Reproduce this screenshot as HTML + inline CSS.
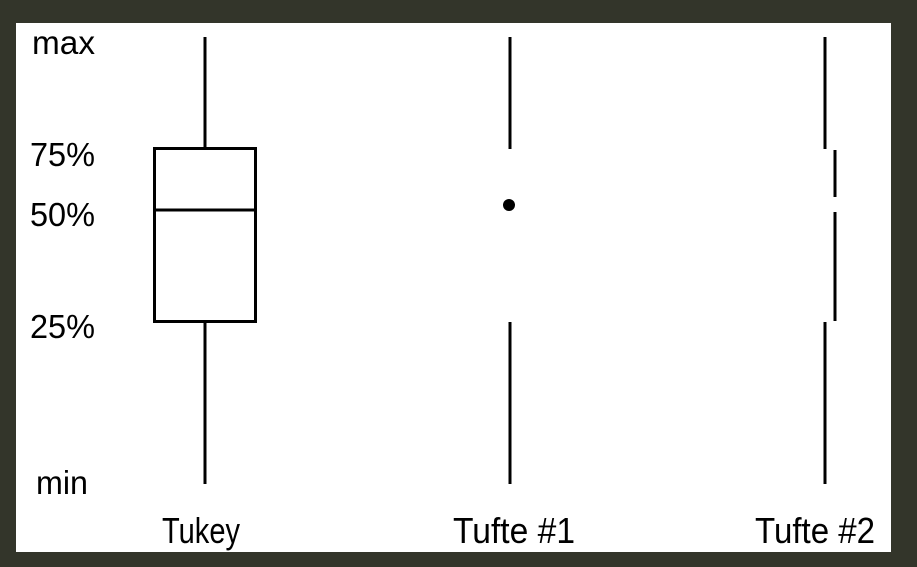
<!DOCTYPE html>
<html><head><style>html,body{margin:0;padding:0;background:#33352a;}svg{display:block}</style></head>
<body>
<svg width="917" height="567" xmlns="http://www.w3.org/2000/svg" font-family="Liberation Sans, Arial, sans-serif">
<rect x="0" y="0" width="917" height="567" fill="#33352a"/>
<rect x="16" y="23" width="875" height="529" fill="#fff"/>
<g stroke="#000" stroke-width="3" fill="none">
<line x1="205" y1="37" x2="205" y2="148"/>
<rect x="154.5" y="148.5" width="101" height="173"/>
<line x1="154" y1="210" x2="256" y2="210"/>
<line x1="205" y1="322" x2="205" y2="484"/>
<line x1="510" y1="37" x2="510" y2="149"/>
<line x1="510" y1="322" x2="510" y2="484"/>
<line x1="825" y1="37" x2="825" y2="149"/>
<line x1="835" y1="150" x2="835" y2="197"/>
<line x1="835" y1="212" x2="835" y2="321"/>
<line x1="825" y1="322" x2="825" y2="484"/>
</g>
<circle cx="509" cy="205" r="6" fill="#000"/>
<g font-size="33" fill="#000">
<text x="32" y="54" textLength="63" lengthAdjust="spacingAndGlyphs">max</text>
<text x="30" y="166" textLength="65" lengthAdjust="spacingAndGlyphs">75%</text>
<text x="30" y="226" textLength="65" lengthAdjust="spacingAndGlyphs">50%</text>
<text x="30" y="338" textLength="65" lengthAdjust="spacingAndGlyphs">25%</text>
<text x="36" y="494" textLength="52" lengthAdjust="spacingAndGlyphs">min</text>
</g>
<g font-size="36" fill="#000">
<text x="162" y="543" textLength="78" lengthAdjust="spacingAndGlyphs">Tukey</text>
<text x="453" y="543" textLength="122" lengthAdjust="spacingAndGlyphs">Tufte #1</text>
<text x="755" y="543" textLength="120" lengthAdjust="spacingAndGlyphs">Tufte #2</text>
</g>
</svg>
</body></html>
